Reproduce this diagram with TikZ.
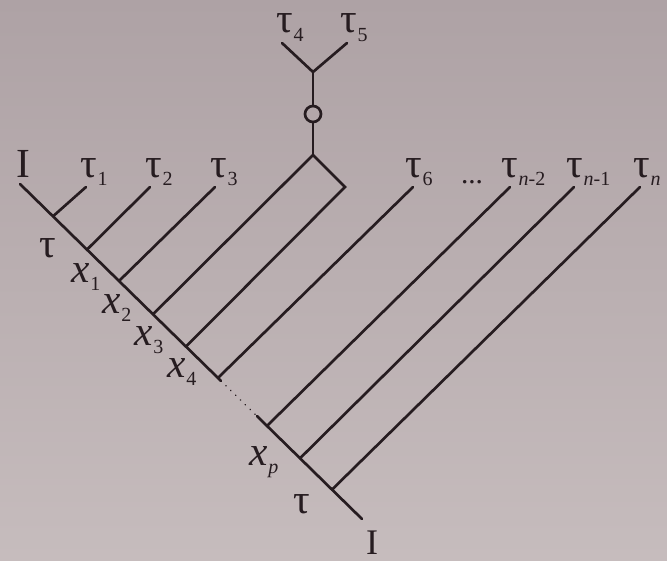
\documentclass[tikz,border=0pt]{standalone}
\usepackage{fontspec}
\setmainfont{Liberation Serif}
\definecolor{bgtop}{RGB}{174,162,165}
\definecolor{bgbot}{RGB}{198,188,189}
\definecolor{ink}{RGB}{38,28,32}
\newcommand{\sbs}[1]{\kern0.6pt\raisebox{-6.5pt}{\fontsize{15}{15}\selectfont #1}}
\newcommand{\bigf}{\fontsize{31}{32}\selectfont}
\begin{document}
\begin{tikzpicture}[x=0.75pt,y=-0.75pt,
  edge/.style={draw=ink,line width=2pt,line cap=round,line join=miter},
  lab/.style={inner sep=0pt,text=ink,font=\bigf,anchor=base west},
  labc/.style={inner sep=0pt,text=ink,font=\bigf,anchor=base}]
\shade[top color=bgtop,bottom color=bgbot] (0,0) rectangle (667,560);
\useasboundingbox (0,0) rectangle (667,560);
% main diagonal
\coordinate (r0) at (20,184);
\coordinate (rE) at (362,519);
\coordinate (b1) at (53,216.3);
\coordinate (b2) at (87,249.6);
\coordinate (b3) at (119,281);
\coordinate (b4) at (153,314.3);
\coordinate (b5) at (186,346.6);
\coordinate (b6) at (218,377.9);
\coordinate (d0) at (221,380.9);
\coordinate (d1) at (257,416.1);
\coordinate (b7) at (267,425.9);
\coordinate (b8) at (300,458.3);
\coordinate (b9) at (332,489.6);
% tops
\coordinate (t1) at (86,187);
\coordinate (t2) at (150,187);
\coordinate (t3) at (215,187);
\coordinate (rt) at (313,155);
\coordinate (rc) at (345,187);
\coordinate (t6) at (413,187);
\coordinate (tn2) at (510,187);
\coordinate (tn1) at (574,187);
\coordinate (tn) at (640,187);
\coordinate (J) at (313,72);
\coordinate (a4) at (282,43);
\coordinate (a5) at (347,43);
\node[circle,draw=ink,line width=2pt,minimum size=12pt,inner sep=0pt] (o) at (313,114) {};
% main line
\draw[edge] (r0) -- (d0);
\draw[ink,line width=1.2pt,line cap=round,dash pattern=on 0.1pt off 5pt] (d0) -- (d1);
\draw[edge] (d1) -- (rE);
% branches
\draw[edge] (b1) -- (t1);
\draw[edge] (b2) -- (t2);
\draw[edge] (b3) -- (t3);
\draw[edge] (b4) -- (rt) -- (rc) -- (b5);
\draw[edge] (b6) -- (t6);
\draw[edge] (b7) -- (tn2);
\draw[edge] (b8) -- (tn1);
\draw[edge] (b9) -- (tn);
\draw[edge] (rt) -- (o.south);
\draw[edge] (o.north) -- (J);
\draw[edge] (a4) -- (J) -- (a5);
% labels
\node[labc] (lI) at (23,177) {I};
\node[lab] (l1) at (80,177) {τ\sbs{1}};
\node[lab] (l2) at (145,177) {τ\sbs{2}};
\node[lab] (l3) at (210,177) {τ\sbs{3}};
\node[labc] (lt) at (48,257) {τ};
\node[lab] (x1) at (71,282) {\textit{x}\sbs{1}};
\node[lab] (x2) at (102,313) {\textit{x}\sbs{2}};
\node[lab] (x3) at (134,345) {\textit{x}\sbs{3}};
\node[lab] (x4) at (167,377) {\textit{x}\sbs{4}};
\node[lab] (xp) at (249,465) {\textit{x}\sbs{\textit{p}}};
\node[labc] (lb) at (302,513) {τ};
\node[labc,font=\fontsize{27}{27}\selectfont] (lI2) at (372,554) {I};
\node[lab] (l4) at (276,33) {τ\sbs{4}};
\node[lab] (l5) at (340,33) {τ\sbs{5}};
\node[lab] (l6) at (405,177) {τ\sbs{6}};
\node[labc,font=\fontsize{22}{22}\selectfont] (dots) at (472,183) {...};
\node[lab] (ln2) at (501,177) {τ\sbs{\textit{n}-2}};
\node[lab] (ln1) at (566,177) {τ\sbs{\textit{n}-1}};
\node[lab] (ln) at (633,177) {τ\sbs{\textit{n}}};
\end{tikzpicture}
\end{document}
